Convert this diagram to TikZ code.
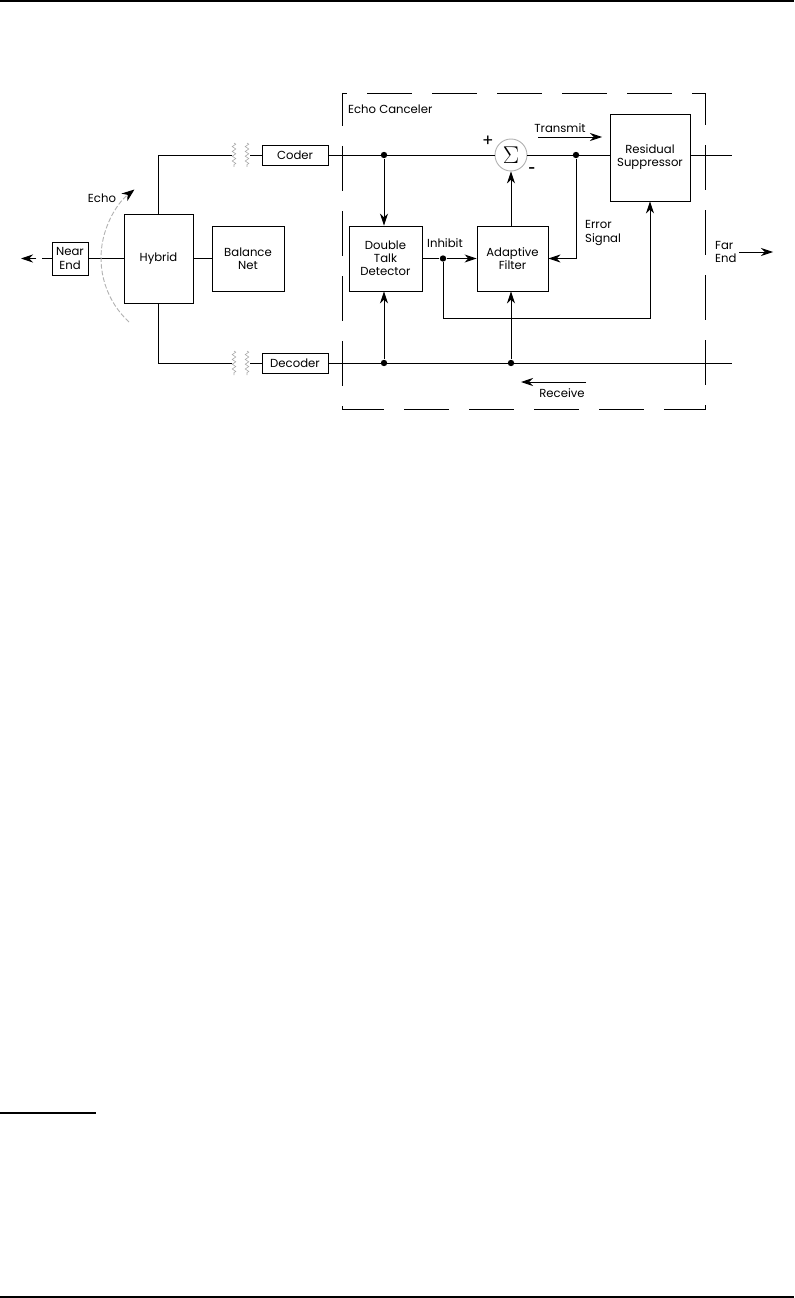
\documentclass[tikz,border=0pt]{standalone}
\usepackage{fontspec}
\setmainfont{Poppins}
\usetikzlibrary{arrows.meta,decorations.pathmorphing}

\begin{document}
\begin{tikzpicture}[x=0.25mm,y=-0.25mm,
  font=\fontsize{8.3}{9.3}\selectfont,
  line width=0.65pt,
  blk/.style={draw, align=center, inner sep=1pt},
  jdot/.style={circle, fill, inner sep=0pt, minimum size=1.6mm},
  arr/.style={-{Stealth[length=3mm,width=2mm]}},
  zz/.style={draw=gray!70, thin, decorate, decoration={zigzag, segment length=1.2mm, amplitude=0.45mm}}]
\useasboundingbox (0,0) rectangle (794,1298);
% page rules
\draw[line width=0.55mm] (0,1) -- (794,1);
\draw[line width=0.55mm] (0,1297) -- (794,1297);
\draw[line width=0.55mm] (0,1113) -- (96,1113);

% near end side
\node[blk, minimum width=9mm, minimum height=8.25mm] (near) at (70,258.5) {Near\\End};
\node[blk, minimum width=17.25mm, minimum height=22.25mm] (hyb) at (158.5,258.5) {Hybrid};
\node[blk, minimum width=18mm, minimum height=16.25mm] (bal) at (248,258.5) {Balance\\Net};
\node[blk, minimum width=16.5mm, minimum height=5mm] (cod) at (295,155) {Coder};
\node[blk, minimum width=16.5mm, minimum height=5mm] (dec) at (295,363) {Decoder};
\coordinate (na) at (21,258.5);
\draw[arr, dash pattern=on 2.5mm off 1.3mm] (near.west) -- (na);
\draw (near) -- (hyb);
\draw (hyb) -- (bal);
\coordinate (ct1) at (232,155);
\coordinate (ct2) at (250,155);
\coordinate (dt1) at (232,363);
\coordinate (dt2) at (250,363);
\draw (hyb.north) |- (ct1);
\draw (ct2) -- (cod.west);
\draw (hyb.south) |- (dt1);
\draw (dt2) -- (dec.west);
\draw[zz] (234,143) -- (234,167);
\draw[zz] (247,143) -- (247,167);
\draw[zz] (234,351) -- (234,375);
\draw[zz] (247,351) -- (247,375);
% echo path
\node (echo) at (102,198) {Echo};
\draw[draw=gray!60, dash pattern=on 1.2mm off 0.5mm, -{Stealth[black,length=3.2mm,width=2.4mm]}]
  (129,322) arc[start angle=132.7, end angle=232, radius=87];

% echo canceler
\draw[dash pattern=on 11.25mm off 5mm, dash phase=3mm] (342,93) rectangle (705,409);
\node[anchor=west] (eclbl) at (343,109) {Echo Canceler};
\node[blk, minimum width=18.25mm, minimum height=16.25mm] (dtd) at (385.5,258.5) {Double\\Talk\\Detector};
\node[blk, minimum width=17.75mm, minimum height=16.25mm] (af) at (512.5,258.5) {Adaptive\\Filter};
\node[blk, minimum width=20mm, minimum height=21.75mm] (rs) at (650,157.5) {Residual\\Suppressor};
\node[circle, draw=gray!60, minimum size=8mm, inner sep=0pt] (sig) at (511,155) {\LARGE$\Sigma$};
\node (pl) at (488,141) {\large +};
\node (mn) at (532,170) {\textbf{-}};

\node[jdot] (j1) at (384,155) {};
\node[jdot] (j2) at (576,155) {};
\node[jdot] (j3) at (443,258.5) {};
\node[jdot] (j4) at (384,363) {};
\node[jdot] (j5) at (511,363) {};
\coordinate (xo) at (732,155);
\coordinate (xi) at (732,363);
\coordinate (fb) at (443,318);

\draw (cod.east) -- (sig.west);
\draw (sig.east) -- (sig.east -| rs.west);
\draw (xo -| rs.east) -- (xo);
\draw (dec.east) -- (xi);
\draw[arr] (j1) -- (j1 |- dtd.north);
\draw[arr] (j4) -- (j4 |- dtd.south);
\draw[arr] (j5) -- (j5 |- af.south);
\draw[arr] (af.north -| sig) -- (sig.south);
\draw (dtd.east) -- (j3);
\draw[arr] (j3) -- (af.west);
\draw[arr] (j2) |- (af.east);
\draw[arr] (j3) -- (fb) -| (rs.south);

% labels
\node (inh) at (445,243) {Inhibit};
\node[anchor=west, align=left] (err) at (580,233) {Error\\Signal};
\node (tx) at (560,128) {Transmit};
\coordinate (ta1) at (538,137);
\coordinate (ta2) at (602,137);
\draw[arr] (ta1) -- (ta2);
\node (rx) at (562,393) {Receive};
\coordinate (ra1) at (586,382);
\coordinate (ra2) at (521,382);
\draw[arr] (ra1) -- (ra2);
\node[anchor=west, align=left] (far) at (710,252) {Far\\End};
\coordinate (fa1) at (739,252);
\coordinate (fa2) at (773,252);
\draw[arr] (fa1) -- (fa2);
\end{tikzpicture}
\end{document}
